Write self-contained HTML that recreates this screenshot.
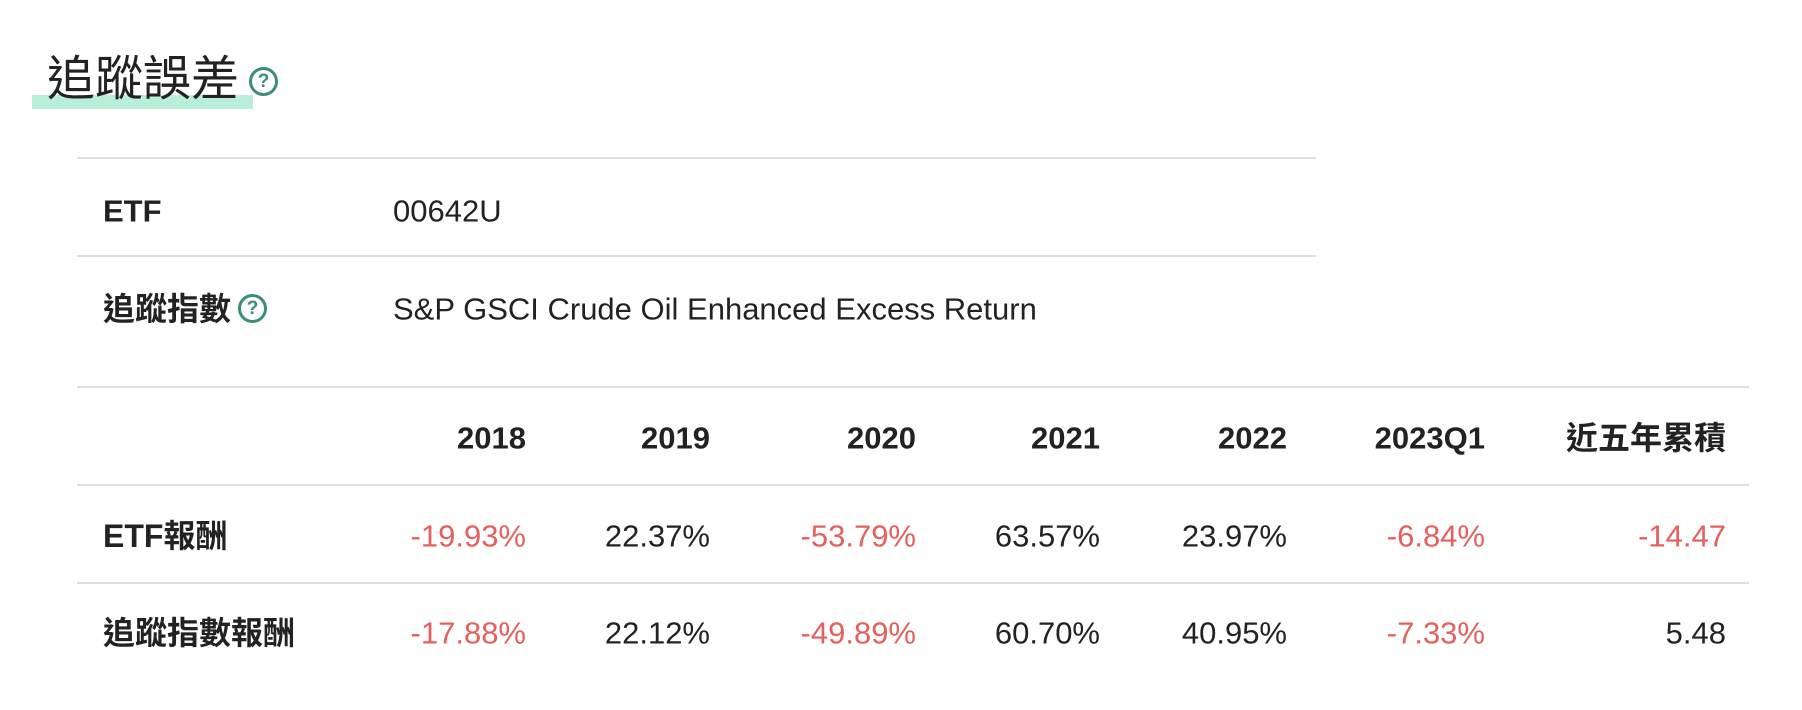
<!DOCTYPE html>
<html><head><meta charset="utf-8"><style>
body{margin:0;width:1802px;height:710px;background:#fff;position:relative;overflow:hidden;font-family:"Liberation Sans","Noto Sans CJK TC",sans-serif;color:#222;}
.a{position:absolute;white-space:nowrap;line-height:1;}
.l{position:absolute;height:2px;background:#dcdfe2;}
.r{color:#e5605c;}
.b{font-weight:bold;}
.q{position:absolute;border:3px solid #3a8f6e;border-radius:50%;box-sizing:border-box;color:#3a8f6e;font-weight:bold;text-align:center;font-family:"Liberation Sans",sans-serif;}
.n{font-size:31px;transform:translateY(-50%);}
.c{font-size:32px;}
</style></head><body>
<div style="position:absolute;left:32px;top:95px;width:221px;height:14px;background:#b9eedb;"></div>
<div class="a" style="left:47px;top:56px;font-size:48px;">追蹤誤差</div>
<div class="q" style="left:249px;top:67px;width:29px;height:29px;font-size:19px;line-height:23px;">?</div>

<div class="l" style="left:77px;top:157px;width:1239px;"></div>
<div class="l" style="left:77px;top:255px;width:1239px;"></div>
<div class="a b n" style="left:103px;top:211px;">ETF</div>
<div class="a n" style="left:393px;top:211px;">00642U</div>
<div class="a b n c" style="left:103px;top:309px;">追蹤指數</div>
<div class="q" style="left:238px;top:294px;width:29px;height:29px;font-size:19px;line-height:23px;">?</div>
<div class="a n" style="left:393px;top:309px;">S&amp;P GSCI Crude Oil Enhanced Excess Return</div>

<div class="l" style="left:77px;top:386px;width:1672px;"></div>
<div class="l" style="left:77px;top:484px;width:1672px;"></div>
<div class="l" style="left:77px;top:582px;width:1672px;"></div>

<div class="a b n" style="right:1276px;top:438px;">2018</div>
<div class="a b n" style="right:1092px;top:438px;">2019</div>
<div class="a b n" style="right:886px;top:438px;">2020</div>
<div class="a b n" style="right:702px;top:438px;">2021</div>
<div class="a b n" style="right:515px;top:438px;">2022</div>
<div class="a b n" style="right:317px;top:438px;">2023Q1</div>
<div class="a b n c" style="right:76px;top:438px;">近五年累積</div>

<div class="a b n c" style="left:103px;top:536px;">ETF報酬</div>
<div class="a n r" style="right:1276px;top:536px;">-19.93%</div>
<div class="a n" style="right:1092px;top:536px;">22.37%</div>
<div class="a n r" style="right:886px;top:536px;">-53.79%</div>
<div class="a n" style="right:702px;top:536px;">63.57%</div>
<div class="a n" style="right:515px;top:536px;">23.97%</div>
<div class="a n r" style="right:317px;top:536px;">-6.84%</div>
<div class="a n r" style="right:76px;top:536px;">-14.47</div>

<div class="a b n c" style="left:103px;top:633px;">追蹤指數報酬</div>
<div class="a n r" style="right:1276px;top:633px;">-17.88%</div>
<div class="a n" style="right:1092px;top:633px;">22.12%</div>
<div class="a n r" style="right:886px;top:633px;">-49.89%</div>
<div class="a n" style="right:702px;top:633px;">60.70%</div>
<div class="a n" style="right:515px;top:633px;">40.95%</div>
<div class="a n r" style="right:317px;top:633px;">-7.33%</div>
<div class="a n" style="right:76px;top:633px;">5.48</div>
</body></html>
